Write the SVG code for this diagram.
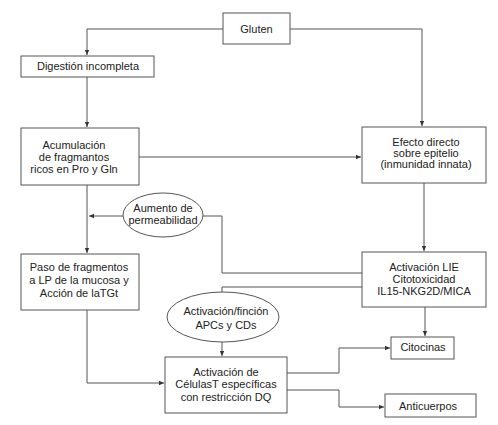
<svg xmlns="http://www.w3.org/2000/svg" width="498" height="425" viewBox="0 0 498 425">
<defs>
<marker id="ar" markerWidth="6" markerHeight="6" refX="5" refY="3" orient="auto" markerUnits="userSpaceOnUse">
<path d="M0,0.8 L5,3 L0,5.2 Z" fill="#333"/>
</marker>
<style>
.box{fill:#fff;stroke:#555;stroke-width:1}
.el{fill:#fff;stroke:#555;stroke-width:1}
.ln{fill:none;stroke:#555;stroke-width:1}
text{font-family:"Liberation Sans",Arial,sans-serif;font-size:11px;fill:#222;text-anchor:middle}
</style>
</defs>
<rect width="498" height="425" fill="#fff"/>
<g id="connectors">
<path class="ln" d="M223,29 H87 V55" marker-end="url(#ar)"/>
<path class="ln" d="M290,29 H422 V126" marker-end="url(#ar)"/>
<path class="ln" d="M87,77 V127" marker-end="url(#ar)"/>
<path class="ln" d="M139,157 H361" marker-end="url(#ar)"/>
<path class="ln" d="M87,185 V253" marker-end="url(#ar)"/>
<path class="ln" d="M424,183 V251" marker-end="url(#ar)"/>
<path class="ln" d="M362,273 H222 V216 H203"/>
<path class="ln" d="M123,216 H89" marker-end="url(#ar)"/>
<path class="ln" d="M362,287 H222 V292"/>
<path class="ln" d="M222,342 V356" marker-end="url(#ar)"/>
<path class="ln" d="M87,310 V383 H164" marker-end="url(#ar)"/>
<path class="ln" d="M425,307 V336" marker-end="url(#ar)"/>
<path class="ln" d="M287,373 H339 V348 H390" marker-end="url(#ar)"/>
<path class="ln" d="M287,390 H339 V407 H384" marker-end="url(#ar)"/>
</g>
<g id="gluten"><rect class="box" x="223" y="13" width="67" height="31"/><text x="256.5" y="33">Gluten</text></g>
<g id="digestion"><rect class="box" x="21" y="56" width="133" height="21"/><text x="88" y="70">Digestión incompleta</text></g>
<g id="acumulacion"><rect class="box" x="21" y="128" width="118" height="57"/>
<text x="74" y="149">Acumulación</text><text x="74" y="161">de fragmantos</text><text x="74" y="173">ricos en Pro y Gln</text></g>
<g id="efecto"><rect class="box" x="362" y="127" width="124" height="56"/>
<text x="426" y="146">Efecto directo</text><text x="426" y="157">sobre epitelio</text><text x="426" y="168">(inmunidad innata)</text></g>
<g id="aumento"><ellipse class="el" cx="163" cy="215" rx="40" ry="22"/>
<text x="163" y="212">Aumento de</text><text x="163" y="224">permeabilidad</text></g>
<g id="paso"><rect class="box" x="21" y="254" width="118" height="56"/>
<text x="79" y="271">Paso de fragmentos</text><text x="79" y="284">a LP de la mucosa y</text><text x="79" y="297">Acción de laTGt</text></g>
<g id="lie"><rect class="box" x="362" y="252" width="124" height="55"/>
<text x="424" y="271">Activación LIE</text><text x="424" y="283">Citotoxicidad</text><text x="424" y="295">IL15-NKG2D/MICA</text></g>
<g id="apcs"><ellipse class="el" cx="223" cy="317" rx="56" ry="25"/>
<text x="226" y="315">Activación/finción</text><text x="226" y="329">APCs y CDs</text></g>
<g id="celulas"><rect class="box" x="165" y="357" width="122" height="56"/>
<text x="226" y="376">Activación de</text><text x="226" y="388">CélulasT específicas</text><text x="226" y="401">con restricción DQ</text></g>
<g id="citocinas"><rect class="box" x="391" y="337" width="63" height="22"/><text x="423" y="351">Citocinas</text></g>
<g id="anticuerpos"><rect class="box" x="385" y="394" width="91" height="23"/><text x="428" y="410">Anticuerpos</text></g>
</svg>
